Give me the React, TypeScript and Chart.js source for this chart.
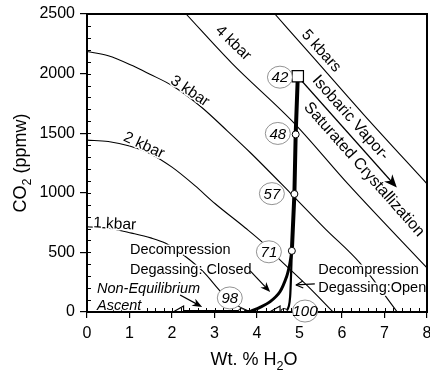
import React, { useEffect, useRef } from "react";
import { Chart, registerables } from "chart.js";
Chart.register(...registerables);

const FONT = '"Liberation Sans", Arial, Helvetica, sans-serif';

// ---- axes ----
const xRange = [0, 8];
const yRange = [0, 2500];
const xStep = 1;
const yStep = 500;

// ---- isobars (wt.% H2O, CO2 ppmw) ----
const isobar1 = [[0, 715], [0.5, 703], [1.05, 662], [1.5, 622], [1.84, 578], [2.3, 470], [2.73, 340], [3.2, 150], [3.5, 62], [3.85, 0]];
const isobar2 = [[0, 1442], [0.5, 1430], [1, 1392], [1.52, 1322], [2, 1215], [2.54, 1060], [3.01, 910], [3.72, 707], [4.14, 580], [4.54, 438], [5.2, 215], [5.79, 0]];
const isobar3 = [[0, 2186], [0.5, 2150], [1.08, 2065], [1.48, 1995], [2.0, 1900], [2.66, 1728], [3.3, 1520], [3.84, 1338], [4.78, 1000], [5.6, 700], [6.42, 412], [7.3, 0]];
const isobar4 = [[2.33, 2500], [3.4, 2090], [4.9, 1575], [6.14, 1075], [8, 370]];
const isobar5 = [[4.42, 2500], [5.36, 2121], [6.5, 1660], [8, 1075]];
const isobarNames = ["1 kbar", "2 kbar", "3 kbar", "4 kbar", "5 kbars"];

// ---- degassing paths ----
const pathCommon = [[4.96, 1978], [4.91, 1490], [4.88, 990], [4.82, 513]];
const pathClosed = [[4.82, 513], [4.77, 400], [4.7, 300], [4.54, 170], [4.31, 87], [4.07, 39], [3.84, 4]];
const pathClosedAxis = [[3.84, 0], [2.2, 0]];
const pathOpen = [[4.82, 513], [4.8, 300], [4.78, 130], [4.75, 50], [4.7, 12], [4.64, 0]];

// ---- markers ----
const startPoint = [[4.96, 1978]];
const samplePoints = [[4.91, 1490], [4.88, 990], [4.82, 513], [3.64, 0], [4.64, 0]];
const ascentPoints = [[2.19, 0], [4.46, 0]];
const sampleLabels = ["42", "48", "57", "71", "98", "100"];

// ---- annotation layout (data coords) ----
const sampleLabelPos = [[4.54, 1970], [4.49, 1498], [4.35, 993], [4.28, 505], [3.36, 118], [5.13, 8]];
const isobarLabelPos = [[0.65, 737, 3], [1.34, 1397, 25], [2.42, 1852, 34], [3.44, 2256, 44], [5.51, 2189, 48]];

const pts = (a: number[][]) => a.map(([x, y]) => ({ x, y }));

function arrow(ctx: CanvasRenderingContext2D, x1: number, y1: number, x2: number, y2: number, len: number, wid: number, filled: boolean) {
  const a = Math.atan2(y2 - y1, x2 - x1);
  ctx.beginPath();
  ctx.moveTo(x1, y1);
  ctx.lineTo(filled ? x2 - Math.cos(a) * len * 0.6 : x2, filled ? y2 - Math.sin(a) * len * 0.6 : y2);
  ctx.stroke();
  const bx = x2 - Math.cos(a) * len, by = y2 - Math.sin(a) * len;
  const nx = -Math.sin(a) * wid / 2, ny = Math.cos(a) * wid / 2;
  ctx.beginPath();
  if (filled) {
    ctx.moveTo(x2, y2);
    ctx.lineTo(bx + nx, by + ny);
    ctx.lineTo(x2 - Math.cos(a) * len * 0.7, y2 - Math.sin(a) * len * 0.7);
    ctx.lineTo(bx - nx, by - ny);
    ctx.closePath();
    ctx.fill();
  } else {
    ctx.moveTo(bx + nx, by + ny);
    ctx.lineTo(x2, y2);
    ctx.lineTo(bx - nx, by - ny);
    ctx.stroke();
  }
}

function haloText(ctx: CanvasRenderingContext2D, t: string, x: number, y: number) {
  ctx.strokeText(t, x, y);
  ctx.fillText(t, x, y);
}

function subText(ctx: CanvasRenderingContext2D, parts: [string, boolean][], x: number, y: number, size: number) {
  const widths = parts.map(([t, s]) => {
    ctx.font = `${s ? size * 0.7 : size}px ${FONT}`;
    return ctx.measureText(t).width;
  });
  let cx = x - widths.reduce((p, c) => p + c, 0) / 2;
  parts.forEach(([t, s], i) => {
    ctx.font = `${s ? size * 0.7 : size}px ${FONT}`;
    ctx.fillText(t, cx, y + (s ? size * 0.28 : 0));
    cx += widths[i];
  });
}

const overlay = {
  id: "overlay",
  afterDatasetsDraw(chart: any) {
    const { ctx, chartArea: ca } = chart;
    const xs = chart.scales.x, ys = chart.scales.y;
    const px = (v: number) => xs.getPixelForValue(v);
    const py = (v: number) => ys.getPixelForValue(v);
    ctx.save();
    ctx.fillStyle = "#000";
    ctx.strokeStyle = "#000";
    ctx.lineWidth = 1;
    // minor ticks (inside)
    for (let i = 0; i <= 40; i++) {
      const X = Math.round(px(i * 0.2)) + 0.5;
      ctx.beginPath(); ctx.moveTo(X, ca.bottom); ctx.lineTo(X, ca.bottom - 4); ctx.stroke();
    }
    for (let i = 0; i <= 25; i++) {
      const Y = Math.round(py(i * 100)) + 0.5;
      ctx.beginPath(); ctx.moveTo(ca.left, Y); ctx.lineTo(ca.left + 4, Y); ctx.stroke();
    }

    ctx.lineJoin = "round";
    ctx.strokeStyle = "#fff";
    ctx.lineWidth = 3;
    // isobar labels
    ctx.font = `15.5px ${FONT}`;
    ctx.textAlign = "center";
    ctx.textBaseline = "middle";
    isobarNames.forEach((t, i) => {
      const [vx, vy, ang] = isobarLabelPos[i];
      ctx.save();
      ctx.translate(px(vx), py(vy));
      ctx.rotate((ang * Math.PI) / 180);
      haloText(ctx, t, 0, 0);
      ctx.restore();
    });
    // isobaric crystallization text
    ctx.font = `16px ${FONT}`;
    [["Isobaric Vapor-", 6.2, 1629], ["Saturated Crystallization", 6.52, 1195]].forEach(([t, vx, vy]: any) => {
      ctx.save();
      ctx.translate(px(vx), py(vy));
      ctx.rotate((48.5 * Math.PI) / 180);
      haloText(ctx, t, 0, 0);
      ctx.restore();
    });
    // left-aligned notes
    ctx.textAlign = "left";
    ctx.font = `14.5px ${FONT}`;
    haloText(ctx, "Decompression", px(1.01), py(522));
    haloText(ctx, "Degassing: Closed", px(1.01), py(354));
    haloText(ctx, "Decompression", px(5.44), py(354));
    haloText(ctx, "Degassing:Open", px(5.44), py(202));
    ctx.font = `italic 14.5px ${FONT}`;
    haloText(ctx, "Non-Equilibrium", px(0.235), py(194));
    haloText(ctx, "Ascent", px(0.235), py(50));

    // arrows
    ctx.strokeStyle = "#000";
    ctx.fillStyle = "#000";
    ctx.lineWidth = 1.2;
    arrow(ctx, px(5.06), py(1936), px(7.29), py(1044), 13, 11, true);
    arrow(ctx, px(3.84), py(345), px(4.31), py(168), 10, 8, true);
    arrow(ctx, px(2.19), py(143), px(2.71), py(42), 10, 8, true);
    arrow(ctx, px(5.36), py(236), px(4.92), py(227), 7, 7, false);
    ctx.restore();
  },
  afterDraw(chart: any) {
    const { ctx, chartArea: ca } = chart;
    const xs = chart.scales.x, ys = chart.scales.y;
    ctx.save();
    // frame
    ctx.strokeStyle = "#000";
    ctx.lineWidth = 2;
    ctx.strokeRect(ca.left, ca.top, ca.right - ca.left, ca.bottom - ca.top);
    // sample circles
    sampleLabels.forEach((t, i) => {
      const X = xs.getPixelForValue(sampleLabelPos[i][0]);
      const Y = ys.getPixelForValue(sampleLabelPos[i][1]);
      ctx.beginPath();
      ctx.ellipse(X, Y, 12.5, 11, 0, 0, Math.PI * 2);
      ctx.fillStyle = "#fff";
      ctx.fill();
      ctx.strokeStyle = "#777";
      ctx.lineWidth = 0.8;
      ctx.stroke();
      ctx.fillStyle = "#000";
      ctx.font = `italic 15px ${FONT}`;
      ctx.textAlign = "center";
      ctx.textBaseline = "middle";
      ctx.fillText(t, X, Y + 1);
    });
    // axis titles
    ctx.fillStyle = "#000";
    ctx.textBaseline = "alphabetic";
    ctx.textAlign = "left";
    subText(ctx, [["Wt. % H", false], ["2", true], ["O", false]], (ca.left + ca.right) / 2 - 3, 365, 18);
    ctx.save();
    ctx.translate(26, (ca.top + ca.bottom) / 2);
    ctx.rotate(-Math.PI / 2);
    subText(ctx, [["CO", false], ["2", true], [" (ppmw)", false]], 0, 0, 18);
    ctx.restore();
    ctx.restore();
  },
};

export default function App() {
  const ref = useRef<HTMLCanvasElement>(null);
  useEffect(() => {
    if (!ref.current) return;
    const line = (data: number[][], w: number, extra: any = {}) => ({
      data: pts(data),
      showLine: true,
      borderColor: "#000",
      borderWidth: w,
      pointRadius: 0,
      fill: false,
      ...extra,
    });
    const chart = new Chart(ref.current, {
      type: "scatter",
      data: {
        datasets: [
          line(isobar1, 1.1, { cubicInterpolationMode: "monotone", order: 10 }),
          line(isobar2, 1.1, { cubicInterpolationMode: "monotone", order: 10 }),
          line(isobar3, 1.1, { cubicInterpolationMode: "monotone", order: 10 }),
          line(isobar4, 1.1, { cubicInterpolationMode: "monotone", order: 10 }),
          line(isobar5, 1.1, { cubicInterpolationMode: "monotone", order: 10 }),
          line(pathCommon, 4, { order: 5 }),
          line(pathClosed, 3, { tension: 0.3, order: 5 }),
          line(pathClosedAxis, 4, { order: 5 }),
          line(pathOpen, 2.2, { tension: 0.3, order: 5 }),
          {
            data: pts(samplePoints), pointRadius: 3.5, pointBackgroundColor: "#fff",
            pointBorderColor: "#000", pointBorderWidth: 1, order: 1,
          },
          {
            data: pts(startPoint), pointStyle: "rect", pointRadius: 8, pointBackgroundColor: "#fff",
            pointBorderColor: "#000", pointBorderWidth: 1.2, order: 1,
          },
          {
            data: pts(ascentPoints), pointStyle: "triangle", rotation: 270, pointRadius: 7,
            pointBackgroundColor: "#fff", pointBorderColor: "#000", pointBorderWidth: 1.2, order: 1,
          },
        ] as any,
      },
      options: {
        animation: false,
        responsive: false,
        devicePixelRatio: 1,
        layout: { autoPadding: false, padding: { top: 14, right: 3, left: 0, bottom: 0 } },
        plugins: { legend: { display: false }, tooltip: { enabled: false } },
        events: [],
        scales: {
          x: {
            type: "linear", min: xRange[0], max: xRange[1],
            afterFit: (s: any) => { s.height = 58; s.paddingLeft = 0; s.paddingRight = 0; },
            ticks: { stepSize: xStep, color: "#000", font: { family: FONT, size: 16 }, padding: 6, callback: (v: any) => String(v) },
            grid: { drawOnChartArea: false, drawTicks: true, tickLength: 6, color: "#000", lineWidth: 1.2 },
            border: { display: true, color: "#000", width: 2 },
          },
          y: {
            type: "linear", min: yRange[0], max: yRange[1],
            afterFit: (s: any) => { s.width = 87; s.paddingTop = 0; s.paddingBottom = 0; },
            ticks: { stepSize: yStep, color: "#000", font: { family: FONT, size: 16 }, padding: 5, callback: (v: any) => String(v) },
            grid: { drawOnChartArea: false, drawTicks: true, tickLength: 7, color: "#000", lineWidth: 1.2 },
            border: { display: true, color: "#000", width: 2 },
          },
        },
      } as any,
      plugins: [overlay],
    });
    return () => chart.destroy();
  }, []);
  return (
    <div style={{ position: "fixed", left: 0, top: 0, width: 430, height: 370, background: "#fff" }}>
      <canvas ref={ref} width={430} height={370} style={{ display: "block" }} />
    </div>
  );
}
